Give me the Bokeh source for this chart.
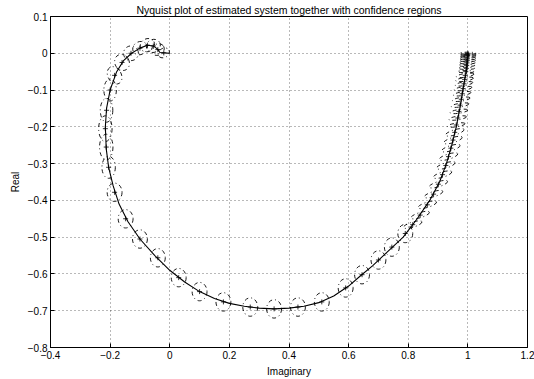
from bokeh.plotting import figure
from bokeh.models import Range1d, FixedTicker
from bokeh.embed import file_html
from bokeh.resources import INLINE

# ---- data ----
curve_x = [1.0, 0.997, 0.99, 0.983, 0.973, 0.961, 0.946, 0.928, 0.905, 0.872, 0.83, 0.783, 0.73,
           0.68, 0.64, 0.6, 0.55, 0.5, 0.45, 0.4, 0.35, 0.3, 0.25, 0.2, 0.15, 0.1, 0.05, 0.0,
           -0.05, -0.1, -0.14, -0.17, -0.19, -0.205, -0.213, -0.216, -0.212, -0.2, -0.178,
           -0.155, -0.128, -0.1, -0.075, -0.055, -0.042, -0.033, 0.0]
curve_y = [0.0, -0.04, -0.07, -0.1, -0.15, -0.2, -0.25, -0.3, -0.35, -0.4, -0.45, -0.5, -0.54,
           -0.578, -0.605, -0.633, -0.66, -0.678, -0.688, -0.693, -0.695, -0.693, -0.688, -0.68,
           -0.667, -0.648, -0.622, -0.59, -0.55, -0.505, -0.458, -0.41, -0.36, -0.31, -0.26,
           -0.2, -0.15, -0.1, -0.05, -0.02, 0.0, 0.014, 0.022, 0.02, 0.012, 0.002, 0.0]

# confidence-region centres
ell_x = [1.0, 1.0, 0.9995, 0.999, 0.9985, 0.998, 0.997, 0.996, 0.995, 0.993, 0.991, 0.989, 0.987,
         0.984, 0.981, 0.978, 0.974, 0.97, 0.966, 0.961, 0.956, 0.95, 0.943, 0.935, 0.926, 0.915,
         0.901, 0.885, 0.864, 0.84, 0.815,
         0.79, 0.745, 0.70, 0.645, 0.59, 0.51, 0.43, 0.35, 0.27, 0.18, 0.1, 0.03, -0.04, -0.1,
         -0.148, -0.185,
         -0.205, -0.213, -0.216, -0.212, -0.2, -0.185, -0.16, -0.13, -0.1, -0.075, -0.055, -0.04, -0.02]
ell_y = [0.0, -0.003, -0.006, -0.01, -0.015, -0.02, -0.026, -0.033, -0.041, -0.05, -0.06, -0.071,
         -0.083, -0.096, -0.11, -0.125, -0.141, -0.158, -0.176, -0.195, -0.215, -0.236, -0.258,
         -0.281, -0.305, -0.33, -0.356, -0.383, -0.412, -0.44, -0.466,
         -0.49, -0.527, -0.562, -0.602, -0.638, -0.676, -0.69, -0.695, -0.69, -0.676, -0.648,
         -0.61, -0.556, -0.505, -0.45, -0.378,
         -0.31, -0.255, -0.205, -0.155, -0.1, -0.06, -0.025, 0.0, 0.014, 0.022, 0.02, 0.01, 0.001]
# confidence-region widths / heights (data units) and tilt (rad)
ell_w = ([0.055] * 10 + [0.06] * 10 + [0.065] * 11 + [0.05] * 16 +
         [0.045, 0.045, 0.045, 0.042, 0.042, 0.045, 0.048, 0.05, 0.05, 0.05, 0.048, 0.045, 0.04])
ell_h = ([0.006] * 10 + [0.01] * 10 + [0.014] * 11 + [0.05] * 16 +
         [0.06, 0.07, 0.07, 0.065, 0.06, 0.05, 0.045, 0.04, 0.035, 0.035, 0.035, 0.03, 0.025])
ell_a = [0.0] * 10 + [0.15] * 10 + [0.3] * 11 + [0.0] * 16 + [0.0] * 5 + [0.5] * 8

x_ticks = [-0.4, -0.2, 0.0, 0.2, 0.4, 0.6, 0.8, 1.0, 1.2]
x_tick_labels = ["\u22120.4", "\u22120.2", "0", "0.2", "0.4", "0.6", "0.8", "1", "1.2"]
y_ticks = [-0.8, -0.7, -0.6, -0.5, -0.4, -0.3, -0.2, -0.1, 0.0, 0.1]
y_tick_labels = ["\u22120.8", "\u22120.7", "\u22120.6", "\u22120.5", "\u22120.4", "\u22120.3",
                 "\u22120.2", "\u22120.1", "0", "0.1"]

title_text = "Nyquist plot of estimated system together with confidence regions"
x_label = "Imaginary"
y_label = "Real"

FONT = "Liberation Sans"

p = figure(width=534, height=379, output_backend="svg", toolbar_location=None,
           x_range=Range1d(-0.4, 1.2), y_range=Range1d(-0.8, 0.1),
           min_border_left=50, min_border_right=7, min_border_top=16, min_border_bottom=30,
           title=title_text)
p.title.text_font = FONT
p.title.text_font_size = "10.5px"
p.title.text_font_style = "normal"
p.title.text_color = "black"
p.title.align = "center"
p.title.standoff = 1
p.title.offset = 0

p.background_fill_color = "white"
p.border_fill_color = "white"
p.outline_line_color = "black"
p.outline_line_width = 1
p.outline_line_alpha = 1

for ax, ticks, labels, lab in ((p.xaxis[0], x_ticks, x_tick_labels, x_label),
                               (p.yaxis[0], y_ticks, y_tick_labels, y_label)):
    ax.ticker = FixedTicker(ticks=ticks)
    ax.major_label_overrides = {t: l for t, l in zip(ticks, labels)}
    ax.minor_tick_line_color = None
    ax.major_tick_in = 4
    ax.major_tick_out = 0
    ax.major_label_standoff = 3
    ax.major_label_text_font = FONT
    ax.major_label_text_font_size = "10px"
    ax.major_label_text_color = "black"
    ax.axis_label = lab
    ax.axis_label_text_font = FONT
    ax.axis_label_text_font_size = "10px"
    ax.axis_label_text_font_style = "normal"
    ax.axis_label_text_color = "black"
    ax.axis_label_standoff = 4
    ax.axis_line_color = "black"
    ax.major_tick_line_color = "black"

p.xgrid.ticker = FixedTicker(ticks=x_ticks)
p.ygrid.ticker = FixedTicker(ticks=y_ticks)
for g in (p.xgrid[0], p.ygrid[0]):
    g.grid_line_color = "#000000"
    g.grid_line_alpha = 0.55
    g.grid_line_dash = "1 3"
    g.grid_line_width = 1

p.ellipse(x=ell_x, y=ell_y, width=ell_w, height=ell_h, angle=ell_a,
          fill_color=None, line_color="black", line_width=0.9, line_dash="4 3 1 3")
p.line(curve_x, curve_y, line_color="black", line_width=1.1)
p.scatter(ell_x, ell_y, marker="cross", size=5, line_color="black", line_width=0.8)

open("out.html", "w").write(file_html(p, INLINE))
